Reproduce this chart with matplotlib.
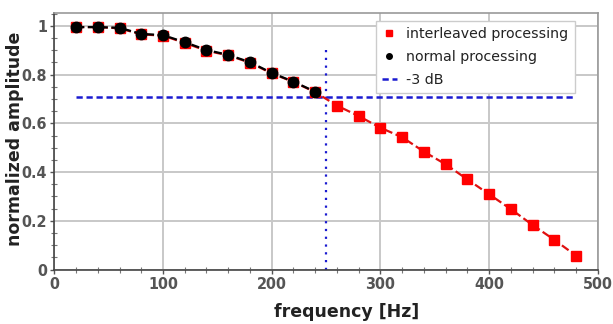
import matplotlib
matplotlib.use("Agg")
import matplotlib.pyplot as plt
from matplotlib.ticker import MultipleLocator
from matplotlib.lines import Line2D
from matplotlib.font_manager import FontProperties

freq_normal = [20, 40, 60, 80, 100, 120, 140, 160, 180, 200, 220, 240]
amp_normal = [0.995, 0.995, 0.992, 0.967, 0.962, 0.933, 0.901, 0.881, 0.851, 0.807, 0.771, 0.730]

freq_inter = [20, 40, 60, 80, 100, 120, 140, 160, 180, 200, 220, 240,
              260, 280, 300, 320, 340, 360, 380, 400, 420, 440, 460, 480]
amp_inter = [0.995, 0.995, 0.990, 0.965, 0.960, 0.930, 0.898, 0.879, 0.849, 0.805, 0.770, 0.728,
             0.673, 0.630, 0.582, 0.543, 0.484, 0.432, 0.370, 0.309, 0.248, 0.183, 0.122, 0.057]

db3_level = 0.707
db3_x_range = [20, 480]
cutoff_freq = 250
cutoff_top = 0.9

labels = ["interleaved processing", "normal processing", "-3 dB"]
yticks = [0, 0.2, 0.4, 0.6, 0.8, 1.0]
ytick_labels = ["0", "0.2", "0.4", "0.6", "0.8", "1"]

fig = plt.figure(figsize=(6.13, 3.24), dpi=100)
ax = fig.add_axes([0.0886, 0.168, 0.8866, 0.792])

ax.grid(True, color="#c8c8c8", linewidth=1.4, zorder=0)
ax.set_axisbelow(True)

ax.plot(freq_inter, amp_inter, linestyle="--", color="#e01010", linewidth=1.6,
        marker="s", markersize=7.5, markerfacecolor="#ff0000", markeredgecolor="#ff0000",
        zorder=3)
ax.plot(freq_normal, amp_normal, linestyle="--", color="black", linewidth=1.6,
        marker="o", markersize=7.5, markerfacecolor="black", markeredgecolor="black",
        zorder=4)
ax.plot(db3_x_range, [db3_level, db3_level], linestyle=(0, (2.5, 1.5)), color="#1a1ad0",
        linewidth=1.8, zorder=2)
ax.plot([cutoff_freq, cutoff_freq], [0, cutoff_top], linestyle=(0, (1, 2.5)), color="#1a1ad0",
        linewidth=1.6, zorder=2)

ax.set_xlim(0, 500)
ax.set_ylim(0, 1.053)
ax.xaxis.set_major_locator(MultipleLocator(100))
ax.xaxis.set_minor_locator(MultipleLocator(20))
ax.yaxis.set_minor_locator(MultipleLocator(0.05))
ax.set_yticks(yticks)
ax.set_yticklabels(ytick_labels)

tick_fp = FontProperties(family="DejaVu Sans", stretch="condensed", weight="bold", size=11.5)
for lab in ax.get_xticklabels() + ax.get_yticklabels():
    lab.set_fontproperties(tick_fp)
    lab.set_color("#555555")

ax.tick_params(which="major", direction="out", length=3, width=1, color="#555555", pad=2)
ax.tick_params(which="minor", direction="inout", length=4, width=0.8, color="#777777")

for side in ["left", "bottom"]:
    ax.spines[side].set_color("#444444")
    ax.spines[side].set_linewidth(1.2)
for side in ["top", "right"]:
    ax.spines[side].set_color("#999999")
    ax.spines[side].set_linewidth(1.2)

ax.set_xlabel("frequency [Hz]", fontsize=12.5, fontweight="bold", color="#222222")
ax.xaxis.set_label_coords(0.537, -0.165)
ax.xaxis.label.set_va("center")
ax.set_ylabel("normalized amplitude", fontsize=12.5, fontweight="bold", color="#222222")
ax.yaxis.set_label_coords(-0.072, 0.509)
ax.yaxis.label.set_va("center")

h = [Line2D([], [], linestyle="none", marker="s", markersize=4, color="#ff0000"),
     Line2D([], [], linestyle="none", marker="o", markersize=4, color="black"),
     Line2D([], [], linestyle=(0, (2.5, 1.5)), color="#1a1ad0", linewidth=1.8)]
leg = ax.legend(h, labels, loc="upper right", bbox_to_anchor=(0.958, 0.97),
                fontsize=10.2, frameon=True, fancybox=False, framealpha=1,
                edgecolor="#cccccc", handlelength=1.0, handletextpad=0.7,
                labelspacing=0.62, borderpad=0.45, borderaxespad=0)
for t in leg.get_texts():
    t.set_color("#222222")

fig.savefig("out.png", dpi=100)
